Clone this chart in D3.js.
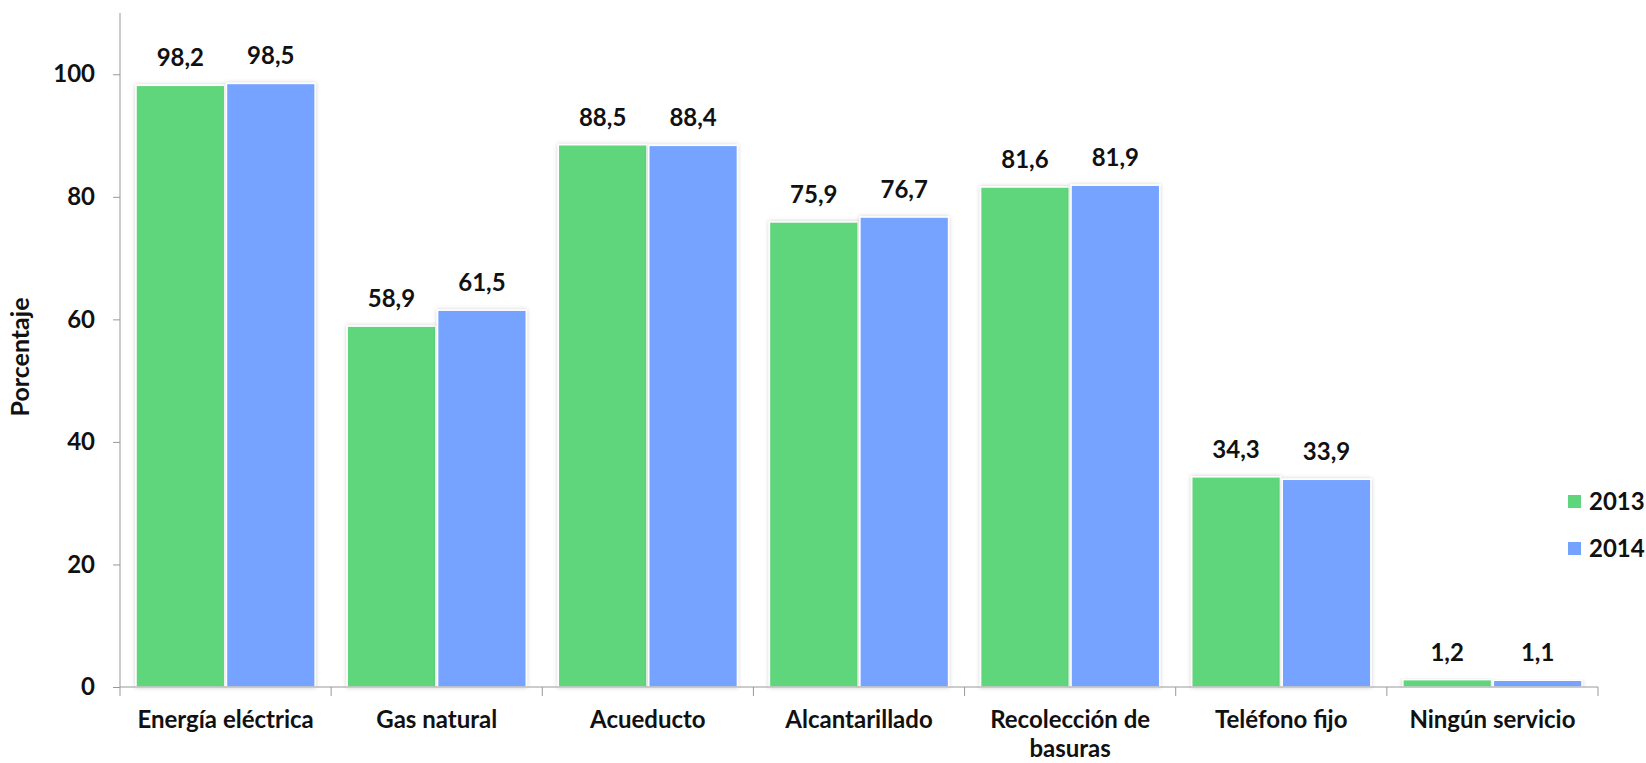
<!DOCTYPE html>
<html>
<head>
<meta charset="utf-8">
<script src="https://cdn.jsdelivr.net/npm/d3@7"></script>
<style>
  body { margin: 0; background: #fff; }
  svg { display: block; font-family: Lato, "Open Sans", sans-serif; }
</style>
</head>
<body>
<svg id="chart" width="1646" height="763"></svg>
<script>
// values
const categories = ['Energía eléctrica', 'Gas natural', 'Acueducto', 'Alcantarillado',
                    'Recolección de basuras', 'Teléfono fijo', 'Ningún servicio'];
const series     = ['2013', '2014'];
const values2013 = [98.2, 58.9, 88.5, 75.9, 81.6, 34.3, 1.2];
const values2014 = [98.5, 61.5, 88.4, 76.7, 81.9, 33.9, 1.1];
const yTicks     = [0, 20, 40, 60, 80, 100];

const COLOR = { '2013': '#5fd67c', '2014': '#74a3ff' };
const FONT  = 24;

const svg = d3.select('#chart');
const M = { left: 120, right: 48, top: 13, bottom: 76 };
const W = 1646, H = 763;

const x = d3.scaleBand().domain(categories)
  .range([M.left, W - M.right]).paddingInner(0).paddingOuter(0);
const x1 = d3.scaleBand().domain(series)
  .range([0, x.bandwidth()]).paddingInner(0.02).paddingOuter(0.177);
const y = d3.scaleLinear().domain([0, 110]).range([H - M.bottom, M.top]);

// soft shadow round the bars
const defs = svg.append('defs');
const f = defs.append('filter').attr('id', 'shadow')
  .attr('x', '-10%').attr('y', '-10%').attr('width', '120%').attr('height', '120%');
f.append('feDropShadow').attr('dx', 0).attr('dy', 0)
  .attr('stdDeviation', 2).attr('flood-color', '#000').attr('flood-opacity', 0.2);

const rows = categories.map((c, i) => ({ cat: c, vals: [
  { s: '2013', v: values2013[i] }, { s: '2014', v: values2014[i] }
]}));

// ── Bars ──────────────────────────────────────────────────────────────────
const groups = svg.append('g').selectAll('g').data(rows).join('g')
  .attr('transform', d => `translate(${x(d.cat)},0)`);

groups.selectAll('rect.bar').data(d => d.vals).join('rect')
  .attr('class', 'bar')
  .attr('x', d => x1(d.s))
  .attr('y', d => y(d.v))
  .attr('width', x1.bandwidth())
  .attr('height', d => y(0) - y(d.v))
  .attr('fill', d => COLOR[d.s])
  .attr('stroke', '#fff').attr('stroke-width', 1.5)
  .attr('filter', 'url(#shadow)');

groups.selectAll('text.val').data(d => d.vals).join('text')
  .attr('class', 'val')
  .attr('x', d => x1(d.s) + x1.bandwidth() / 2)
  .attr('y', d => y(d.v) - 19)
  .attr('text-anchor', 'middle')
  .attr('font-size', FONT + 'px').attr('font-weight', 'bold').attr('fill', '#111')
  .text(d => d3.format('.1f')(d.v).replace('.', ','));

// ── Axes ──────────────────────────────────────────────────────────────────
const yAxis = svg.append('g').attr('transform', `translate(${M.left},0)`)
  .call(d3.axisLeft(y).tickValues(yTicks).tickSize(7).tickPadding(18));
yAxis.select('.domain').attr('d', `M0,${M.top}V${y(0)}`);

const xAxis = svg.append('g').attr('transform', `translate(0,${y(0)})`)
  .call(d3.axisBottom(x).tickSize(0).tickFormat(''));
xAxis.select('.domain').attr('d', `M${M.left},0H${W - M.right}`);

svg.append('g').attr('transform', `translate(0,${y(0)})`)
  .selectAll('line').data(d3.range(categories.length + 1)).join('line')
  .attr('x1', i => M.left + i * x.step()).attr('x2', i => M.left + i * x.step())
  .attr('y1', 0).attr('y2', 9)
  .attr('stroke', '#999');

svg.selectAll('.domain, .tick line').attr('stroke', '#999');
yAxis.selectAll('text')
  .attr('font-size', FONT + 'px').attr('font-weight', 'bold').attr('fill', '#111')
  .attr('font-family', 'Lato, sans-serif');

// category labels, wrapped like the original
const labelLines = { 'Recolección de basuras': ['Recolección de', 'basuras'] };
svg.append('g').selectAll('text').data(categories).join('text')
  .attr('x', d => x(d) + x.bandwidth() / 2)
  .attr('y', y(0) + 41)
  .attr('text-anchor', 'middle')
  .attr('font-size', FONT + 'px').attr('font-weight', 'bold').attr('fill', '#111')
  .each(function(d) {
    const lines = labelLines[d] || [d];
    d3.select(this).selectAll('tspan').data(lines).join('tspan')
      .attr('x', x(d) + x.bandwidth() / 2)
      .attr('dy', (l, i) => i ? 29 : 0)
      .text(l => l);
  });

svg.append('text')
  .attr('transform', `translate(29,${(M.top + y(0)) / 2 + 7}) rotate(-90)`)
  .attr('text-anchor', 'middle')
  .attr('font-size', '25px').attr('font-weight', 'bold').attr('fill', '#111')
  .text('Porcentaje');

// ── Legend ────────────────────────────────────────────────────────────────
const legend = svg.append('g').attr('transform', 'translate(1568,495)')
  .selectAll('g').data(series).join('g')
  .attr('transform', (d, i) => `translate(0,${i * 47})`);
legend.append('rect').attr('width', 13).attr('height', 13).attr('fill', d => COLOR[d]);
legend.append('text').attr('x', 21).attr('y', 15)
  .attr('font-size', FONT + 'px').attr('font-weight', 'bold').attr('fill', '#111')
  .text(d => d);
</script>
</body>
</html>
